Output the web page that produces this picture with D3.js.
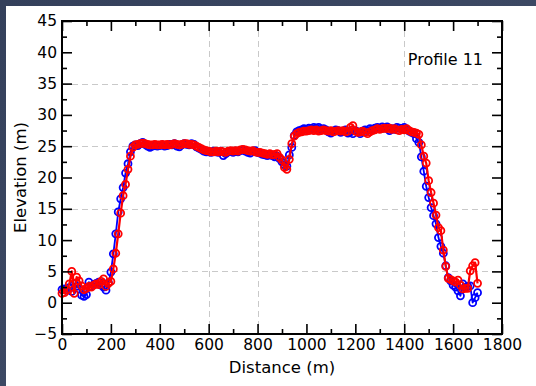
<!DOCTYPE html>
<html>
<head>
<meta charset="utf-8">
<script src="https://cdn.jsdelivr.net/npm/d3@7"></script>
<style>
  html, body { margin: 0; padding: 0; }
  body { width: 536px; height: 386px; overflow: hidden; }
  svg { display: block; }
  text { font-family: "DejaVu Sans", sans-serif; fill: #000; }
</style>
</head>
<body>
<svg id="chart" width="536" height="386"></svg>
<script>
// Cross-section profile: distance along the line vs. ground elevation
const distance = [
  0, 10, 20, 30, 40, 50, 60, 70, 80, 90,
  100, 110, 120, 130, 140, 150, 160, 170, 180, 190,
  200, 210, 220, 230, 240, 250, 260, 270, 280, 290,
  300, 310, 320, 330, 340, 350, 360, 370, 380, 390,
  400, 410, 420, 430, 440, 450, 460, 470, 480, 490,
  500, 510, 520, 530, 540, 550, 560, 570, 580, 590,
  600, 610, 620, 630, 640, 650, 660, 670, 680, 690,
  700, 710, 720, 730, 740, 750, 760, 770, 780, 790,
  800, 810, 820, 830, 840, 850, 860, 870, 880, 890,
  900, 910, 920, 930, 940, 950, 960, 970, 980, 990,
  1000, 1010, 1020, 1030, 1040, 1050, 1060, 1070, 1080, 1090,
  1100, 1110, 1120, 1130, 1140, 1150, 1160, 1170, 1180, 1190,
  1200, 1210, 1220, 1230, 1240, 1250, 1260, 1270, 1280, 1290,
  1300, 1310, 1320, 1330, 1340, 1350, 1360, 1370, 1380, 1390,
  1400, 1410, 1420, 1430, 1440, 1450, 1460, 1470, 1480, 1490,
  1500, 1510, 1520, 1530, 1540, 1550, 1560, 1570, 1580, 1590,
  1600, 1610, 1620, 1630, 1640, 1650, 1660, 1670, 1680, 1690,
  1700
];

// Elevation surveyed (blue)
const elevationBlue = [
  2.1, 2.2, 2.0, 2.4, 1.8, 3.0, 2.6, 2.2, 1.2, 1.0,
  1.3, 3.3, 2.6, 2.9, 3.1, 3.3, 2.8, 2.5, 2.0, 3.2,
  4.9, 7.8, 11.0, 14.5, 16.6, 18.4, 20.7, 22.2, 24.1, 25.0,
  25.2, 25.1, 25.4, 25.6, 25.3, 25.0, 24.8, 25.0, 25.1, 25.0,
  25.1, 25.2, 25.0, 25.1, 25.3, 25.2, 25.4, 25.0, 24.9, 25.2,
  25.4, 25.3, 25.2, 25.4, 25.3, 24.9, 24.7, 24.5, 24.2, 24.1,
  24.1, 24.0, 24.2, 24.1, 24.0, 24.2, 23.5, 23.8, 24.1, 24.2,
  24.0, 24.2, 24.1, 24.3, 24.4, 24.2, 24.0, 23.9, 24.2, 24.3,
  24.0, 23.9, 23.7, 23.6, 23.5, 23.7, 23.5, 23.3, 23.4, 23.0,
  22.5, 22.0, 21.8, 23.6, 24.8, 26.7, 27.3, 27.5, 27.6, 27.8,
  27.7, 27.9, 27.8, 28.0, 27.9, 28.0, 27.7, 27.8, 27.6, 27.3,
  27.1, 27.4, 27.6, 27.5, 27.2, 27.4, 27.6, 27.1, 27.3, 27.0,
  27.5, 27.3, 27.0, 27.4, 27.6, 27.5, 27.8, 27.7, 27.9, 28.0,
  27.8, 28.1, 27.9, 28.1, 27.5, 27.8, 27.7, 28.0, 27.9, 27.8,
  28.0, 27.7, 27.4, 27.2, 27.0, 26.2, 25.6, 23.3, 21.0, 18.6,
  16.8, 15.2, 13.9, 12.6, 10.4, 9.0, 7.9, 5.9, 4.0, 3.5,
  2.8, 2.5, 1.9, 1.1, 3.0, 2.5, 2.6, 2.7, 0.0, 0.8,
  1.6
];

// Elevation surveyed (red)
const elevationRed = [
  1.5, 1.6, 2.0, 3.0, 5.0, 1.5, 4.1, 3.5, 2.7, 2.1,
  2.3, 2.6, 2.5, 2.8, 3.0, 2.9, 3.4, 3.8, 2.6, 3.1,
  3.4, 5.4, 7.9, 11.0, 14.3, 17.1, 18.9, 21.3, 23.4, 24.8,
  25.2, 25.3, 25.4, 25.5, 25.4, 25.3, 25.2, 25.2, 25.3, 25.2,
  25.2, 25.3, 25.2, 25.3, 25.2, 25.3, 25.4, 25.3, 25.2, 25.3,
  25.4, 25.4, 25.3, 25.3, 25.2, 25.0, 24.8, 24.6, 24.4, 24.3,
  24.2, 24.1, 24.1, 24.2, 24.1, 24.2, 24.1, 24.0, 24.2, 24.3,
  24.2, 24.3, 24.2, 24.4, 24.5, 24.4, 24.3, 24.2, 24.3, 24.1,
  24.0, 24.0, 23.9, 23.8, 23.7, 23.8, 23.6, 23.7, 23.8, 23.2,
  22.8, 21.6, 21.3, 22.9, 25.4, 26.6, 27.0, 27.2, 27.3, 27.4,
  27.4, 27.5, 27.6, 27.5, 27.6, 27.4, 27.5, 27.6, 27.5, 27.4,
  27.5, 27.3, 27.4, 27.5, 27.4, 27.5, 27.3, 27.4, 28.0, 28.3,
  27.4, 27.2, 27.3, 27.4, 27.2, 27.0, 27.3, 27.5, 27.6, 27.8,
  27.7, 27.8, 27.9, 27.8, 27.9, 27.7, 27.8, 27.6, 27.5, 27.7,
  27.6, 27.8, 27.5, 27.3, 27.2, 27.1, 26.9, 25.2, 23.4, 22.3,
  19.5, 17.6, 15.9, 14.0, 12.0, 11.5, 8.4, 5.8, 3.9, 3.7,
  3.5, 3.3, 3.6, 2.8, 2.2, 2.3, 2.3, 5.1, 5.9, 6.4,
  3.1
];

const xTicks = [0, 200, 400, 600, 800, 1000, 1200, 1400, 1600, 1800];
const xMinorTicks = [100, 300, 500, 700, 900, 1100, 1300, 1500, 1700];
const yTicks = [-5, 0, 5, 10, 15, 20, 25, 30, 35, 40, 45];
const yMinorTicks = [-2.5, 2.5, 7.5, 12.5, 17.5, 22.5, 27.5, 32.5, 37.5, 42.5];
const xGrid = [600, 800, 1400];
const yGrid = [5, 15, 25, 35];
const profileName = "Profile 11";

const svg = d3.select("#chart");
const W = 536, H = 386;

// backdrop and white panel
const defs = svg.append("defs");
const grad = defs.append("linearGradient").attr("id", "bg")
  .attr("x1", 0).attr("y1", 0).attr("x2", 1).attr("y2", 1);
grad.append("stop").attr("offset", "0%").attr("stop-color", "#34405b");
grad.append("stop").attr("offset", "100%").attr("stop-color", "#44506b");
svg.append("rect").attr("width", W).attr("height", H).attr("fill", "url(#bg)");
svg.append("rect").attr("x", 6).attr("y", 6).attr("width", W - 6).attr("height", H - 6).attr("fill", "#fff");

const m = { left: 62, right: 502, top: 21, bottom: 334 };
const x = d3.scaleLinear().domain([0, 1800]).range([m.left, m.right]);
const y = d3.scaleLinear().domain([-5, 45]).range([m.bottom, m.top]);

// dashed grid
const grid = svg.append("g").attr("stroke", "#c9c9c9").attr("stroke-width", 1)
  .attr("stroke-dasharray", "6,4");
grid.selectAll("line.gx").data(xGrid).join("line").attr("class", "gx")
  .attr("x1", d => Math.round(x(d)) + 0.5).attr("x2", d => Math.round(x(d)) + 0.5)
  .attr("y1", m.top).attr("y2", m.bottom);
grid.selectAll("line.gy").data(yGrid).join("line").attr("class", "gy")
  .attr("y1", d => Math.round(y(d)) + 0.5).attr("y2", d => Math.round(y(d)) + 0.5)
  .attr("x1", m.left).attr("x2", m.right);

// series
const series = [
  { values: elevationBlue, color: "#0000ff", width: 1.8 },
  { values: elevationRed, color: "#ff0000", width: 2.2 }
];
const line = d3.line().x(d => x(d[0])).y(d => y(d[1]));
series.forEach(s => {
  const pts = distance.map((d, i) => [d, s.values[i]]);
  const g = svg.append("g");
  g.append("path").datum(pts).attr("d", line)
    .attr("fill", "none").attr("stroke", s.color).attr("stroke-width", s.width)
    .attr("stroke-linejoin", "round");
  g.selectAll("circle").data(pts).join("circle")
    .attr("cx", d => x(d[0])).attr("cy", d => y(d[1])).attr("r", 3.5)
    .attr("fill", "none").attr("stroke", s.color).attr("stroke-width", 1.8);
});

// axes with inward ticks on all four sides
const fmt = d => (d < 0 ? "\u2212" + Math.abs(d) : String(d));
function styleAxis(g) {
  g.select(".domain").remove();
  g.selectAll(".tick line").attr("stroke", "#000").attr("stroke-width", 1.6);
  g.selectAll(".tick text").style("font-size", "15.5px").style("font-family", "DejaVu Sans, sans-serif");
}
const axes = [
  { a: d3.axisBottom(x), t: `translate(0,${m.bottom})`, label: true, vals: xTicks, minor: xMinorTicks },
  { a: d3.axisTop(x), t: `translate(0,${m.top})`, label: false, vals: xTicks, minor: xMinorTicks },
  { a: d3.axisLeft(y), t: `translate(${m.left},0)`, label: true, vals: yTicks, minor: yMinorTicks },
  { a: d3.axisRight(y), t: `translate(${m.right},0)`, label: false, vals: yTicks, minor: yMinorTicks }
];
axes.forEach(ax => {
  svg.append("g").attr("transform", ax.t)
    .call(ax.a.tickValues(ax.minor).tickSize(-5).tickFormat(""))
    .call(styleAxis);
  const g = svg.append("g").attr("transform", ax.t)
    .call(ax.a.tickValues(ax.vals).tickSizeInner(-10).tickSizeOuter(0).tickPadding(5)
      .tickFormat(ax.label ? fmt : ""))
    .call(styleAxis);
  if (!ax.label) g.selectAll(".tick text").remove();
});

// frame
svg.append("rect").attr("x", m.left).attr("y", m.top)
  .attr("width", m.right - m.left).attr("height", m.bottom - m.top)
  .attr("fill", "none").attr("stroke", "#000").attr("stroke-width", 2);

// labels
svg.append("text").attr("x", (m.left + m.right) / 2).attr("y", 373)
  .attr("text-anchor", "middle").style("font-size", "16.5px").text("Distance (m)");
svg.append("text").attr("transform", `translate(26,${(m.top + m.bottom) / 2}) rotate(-90)`)
  .attr("text-anchor", "middle").style("font-size", "16.5px").text("Elevation (m)");
svg.append("text").attr("x", 483).attr("y", 65)
  .attr("text-anchor", "end").style("font-size", "16px").text(profileName);
</script>
</body>
</html>
